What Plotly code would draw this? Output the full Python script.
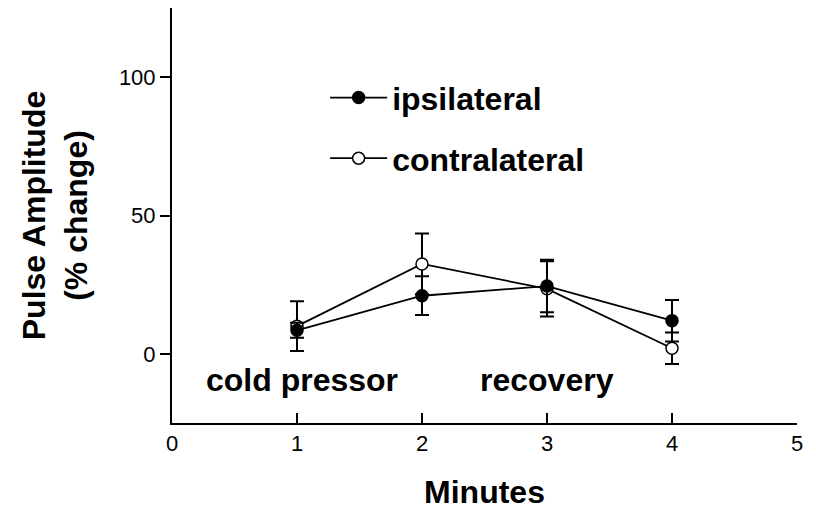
import plotly.graph_objects as go

minutes = [1, 2, 3, 4]
ipsi = [8.5, 21, 24.5, 12]
ipsi_err = [2.7, 7, 9.5, 7.5]
contra = [10, 32.5, 23.5, 2]
contra_err = [9, 11, 10, 5.7]
x_ticks = [0, 1, 2, 3, 4, 5]
y_ticks = [0, 50, 100]
phase_labels = ["cold pressor", "recovery"]
phase_x = [1.04, 3.0]
phase_y = [-9.5, -9.5]

FONT = "Liberation Sans, Arial, sans-serif"

fig = go.Figure()
fig.add_trace(go.Scatter(
    x=minutes, y=contra, name="contralateral", mode="lines+markers",
    legendgroup="b", legendrank=2,
    line=dict(color="black", width=1.8),
    marker=dict(symbol="circle", size=12, color="white", line=dict(color="black", width=1.5)),
    error_y=dict(type="data", array=contra_err, color="black", thickness=2, width=7),
))
fig.add_trace(go.Scatter(
    x=minutes, y=ipsi, name="ipsilateral", mode="lines+markers",
    legendgroup="a", legendrank=1,
    line=dict(color="black", width=1.8),
    marker=dict(symbol="circle", size=12, color="black", line=dict(color="black", width=1.5)),
    error_y=dict(type="data", array=ipsi_err, color="black", thickness=2, width=7),
))

for t, xx, yy in zip(phase_labels, phase_x, phase_y):
    fig.add_annotation(x=xx, y=yy, text="<b>%s</b>" % t, showarrow=False,
                       font=dict(family=FONT, size=32, color="black"))

fig.update_layout(
    width=816, height=517,
    margin=dict(l=172, r=19, t=8, b=94),
    paper_bgcolor="white", plot_bgcolor="white",
    showlegend=True,
    legend=dict(x=0.245, y=0.85, xanchor="left", yanchor="top",
                traceorder="grouped", tracegroupgap=16,
                itemwidth=57,
                font=dict(family=FONT, size=32, color="black", weight="bold"),
                bgcolor="rgba(0,0,0,0)", borderwidth=0),
    xaxis=dict(range=[0, 5], tickvals=x_ticks, ticks="inside", ticklen=10, tickwidth=2,
               tickcolor="black", showline=True, linecolor="black", linewidth=2,
               showgrid=False, zeroline=False,
               tickfont=dict(family=FONT, size=22, color="black"),
               title=dict(text="<b>Minutes</b>", font=dict(family=FONT, size=32, color="black"),
                          standoff=25)),
    yaxis=dict(range=[-25, 125], tickvals=y_ticks, ticks="outside", ticklen=10, tickwidth=2,
               tickcolor="black", showline=True, linecolor="black", linewidth=2,
               showgrid=False, zeroline=False,
               tickfont=dict(family=FONT, size=22, color="black"),
               title=dict(text="<b>Pulse Amplitude<br>(% change)</b>",
                          font=dict(family=FONT, size=32, color="black"), standoff=22)),
)

fig.write_html("out.html")
